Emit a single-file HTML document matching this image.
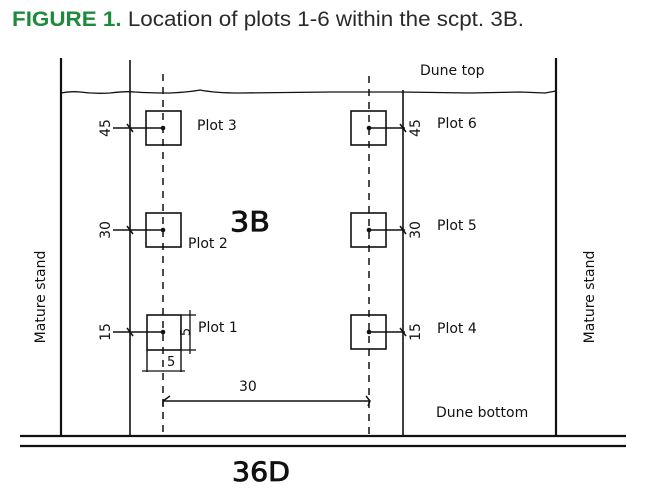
<!DOCTYPE html>
<html><head><meta charset="utf-8"><style>
body{margin:0;background:#fff;width:649px;height:500px;overflow:hidden}
svg{display:block}
</style></head><body>
<svg width="649" height="500" viewBox="0 0 649 500" xmlns="http://www.w3.org/2000/svg">
<text x="12" y="26" font-family="Liberation Sans, sans-serif" font-size="21" fill="#2a2a2a" textLength="512" lengthAdjust="spacingAndGlyphs"><tspan fill="#1e8a3c" font-weight="bold">FIGURE 1.</tspan> Location of plots 1-6 within the scpt. 3B.</text>
<g stroke="#111" fill="none">
<line x1="61" y1="58" x2="61" y2="436" stroke-width="2.2"/>
<line x1="130" y1="60" x2="130" y2="436" stroke-width="1.6"/>
<line x1="163" y1="74" x2="163" y2="436" stroke-width="1.5" stroke-dasharray="7,6"/>
<line x1="369" y1="76" x2="369" y2="436" stroke-width="1.5" stroke-dasharray="7,6"/>
<line x1="403" y1="90" x2="403" y2="436" stroke-width="1.6"/>
<line x1="556" y1="58" x2="556" y2="436" stroke-width="2.2"/>
<path d="M61 93 Q70 91 80 92 Q95 94 110 93 Q125 91 135 92 Q150 93 170 93 Q190 92 200 90 Q215 93 240 93 L330 92 L400 92 L470 93 L520 92 L545 93 L556 91" stroke-width="1.3"/>
<line x1="20" y1="436" x2="626" y2="436" stroke-width="2.2"/>
<line x1="20" y1="446" x2="626" y2="446" stroke-width="2.2"/>
<rect x="146" y="111" width="35" height="34" stroke-width="1.6"/>
<rect x="146" y="213" width="35" height="34" stroke-width="1.6"/>
<rect x="147" y="315" width="34" height="35" stroke-width="1.6"/>
<line x1="147" y1="350" x2="147" y2="372" stroke-width="1.4"/>
<line x1="181" y1="350" x2="181" y2="372" stroke-width="1.4"/>
<line x1="142" y1="371" x2="185" y2="371" stroke-width="1.3"/>
<line x1="181" y1="315" x2="196" y2="315" stroke-width="1.3"/>
<line x1="181" y1="350" x2="196" y2="350" stroke-width="1.3"/>
<line x1="190" y1="310" x2="190" y2="354" stroke-width="1.3"/>
<rect x="351" y="111" width="35" height="34" stroke-width="1.6"/>
<rect x="351" y="213" width="35" height="34" stroke-width="1.6"/>
<rect x="351" y="315" width="35" height="34" stroke-width="1.6"/>
<g stroke-width="1.5">
<line x1="113" y1="128" x2="163" y2="128"/><line x1="113" y1="230" x2="163" y2="230"/><line x1="113" y1="332" x2="163" y2="332"/>
<line x1="369" y1="128" x2="405" y2="128"/><line x1="369" y1="230" x2="405" y2="230"/><line x1="369" y1="332" x2="405" y2="332"/>
<line x1="127" y1="124" x2="133" y2="132"/><line x1="127" y1="226" x2="133" y2="234"/><line x1="127" y1="328" x2="133" y2="336"/>
<line x1="400" y1="124" x2="406" y2="132"/><line x1="400" y1="226" x2="406" y2="234"/><line x1="400" y1="328" x2="406" y2="336"/>
<line x1="163" y1="401" x2="370" y2="401"/>
<path d="M170 396 L163 401 L163 407"/>
<path d="M366 396 L370 401 L368 406"/>
</g>
</g>
<g fill="#111">
<circle cx="163" cy="128" r="2.3"/><circle cx="163" cy="230" r="2.3"/><circle cx="163" cy="332" r="2.3"/>
<circle cx="369" cy="128" r="2.3"/><circle cx="369" cy="230" r="2.3"/><circle cx="369" cy="332" r="2.3"/>
</g>
<g font-family="DejaVu Sans, sans-serif" fill="#111" font-size="14">
<text x="197" y="130">Plot 3</text>
<text x="188" y="248">Plot 2</text>
<text x="198" y="332">Plot 1</text>
<text x="437" y="128">Plot 6</text>
<text x="437" y="230">Plot 5</text>
<text x="437" y="333">Plot 4</text>
<text x="420" y="75">Dune top</text>
<text x="436" y="417">Dune bottom</text>
<text x="239" y="391">30</text>
<text x="167" y="366" font-size="13">5</text>
<text x="230" y="231" font-size="28" stroke="#111" stroke-width="0.8" textLength="40" lengthAdjust="spacingAndGlyphs">3B</text>
<text x="232" y="481" font-size="27" stroke="#111" stroke-width="0.8" textLength="58" lengthAdjust="spacingAndGlyphs">36D</text>
<text transform="translate(110,128) rotate(-90)" text-anchor="middle">45</text>
<text transform="translate(110,230) rotate(-90)" text-anchor="middle">30</text>
<text transform="translate(110,332) rotate(-90)" text-anchor="middle">15</text>
<text transform="translate(190,332) rotate(-90)" text-anchor="middle" font-size="13">5</text>
<text transform="translate(420,128) rotate(-90)" text-anchor="middle">45</text>
<text transform="translate(420,230) rotate(-90)" text-anchor="middle">30</text>
<text transform="translate(420,332) rotate(-90)" text-anchor="middle">15</text>
<text transform="translate(45,297) rotate(-90)" text-anchor="middle">Mature  stand</text>
<text transform="translate(594,297) rotate(-90)" text-anchor="middle">Mature stand</text>
</g>
</svg>
</body></html>
